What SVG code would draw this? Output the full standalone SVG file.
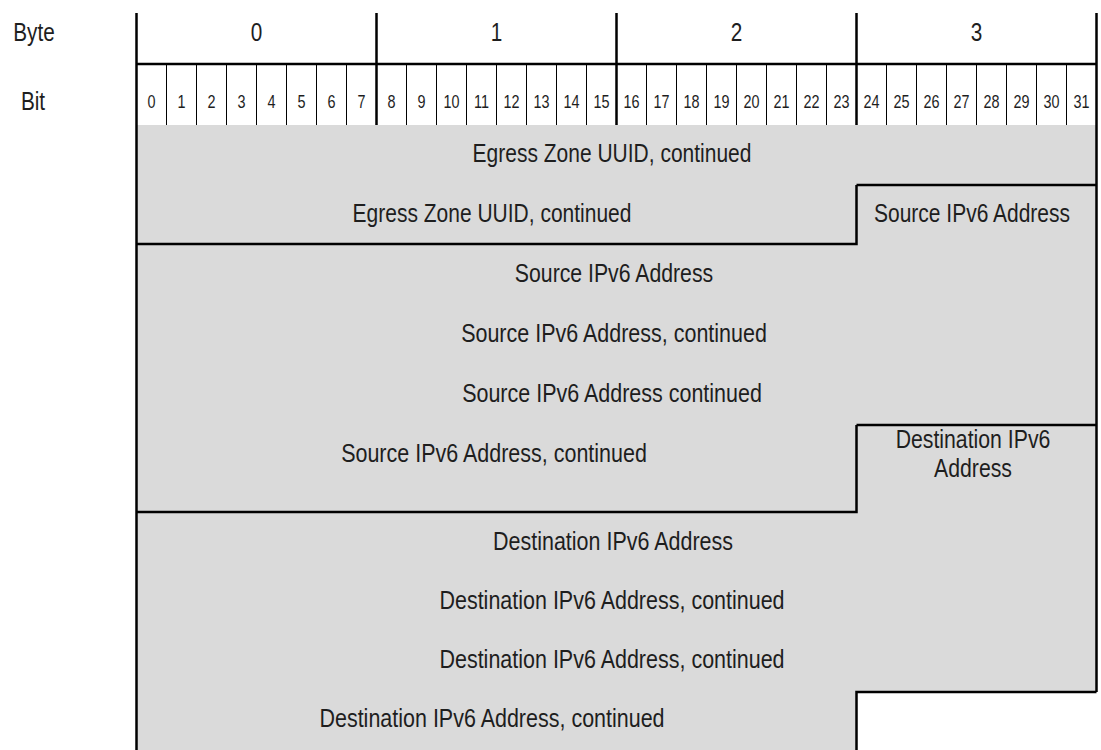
<svg xmlns="http://www.w3.org/2000/svg" width="1101" height="750" viewBox="0 0 1101 750">
<style>
text{font-family:"Liberation Sans",Arial,sans-serif;fill:#1e1e1e;text-anchor:middle}
.t{font-size:25px}
.h{font-size:25px}
.b{font-size:18px}
.thick{stroke:#000;stroke-width:2.5;fill:none}
.thin{stroke:#000;stroke-width:1;fill:none}
</style>
<rect width="1101" height="750" fill="#fff"/>
<path d="M136.5,125H1096.5V692H856.5V750H136.5Z" fill="#dadada"/>
<g id="header">
<text class="h" transform="translate(34 41) scale(0.83 1)">Byte</text>
<text class="h" transform="translate(33 110) scale(0.83 1)">Bit</text>
<text class="h" transform="translate(256.5 41) scale(0.83 1)">0</text>
<text class="h" transform="translate(496.5 41) scale(0.83 1)">1</text>
<text class="h" transform="translate(736.5 41) scale(0.83 1)">2</text>
<text class="h" transform="translate(976.5 41) scale(0.83 1)">3</text>
<g id="bits">
<text class="b" transform="translate(151.5 108) scale(0.8 1)">0</text><text class="b" transform="translate(181.5 108) scale(0.8 1)">1</text><text class="b" transform="translate(211.5 108) scale(0.8 1)">2</text><text class="b" transform="translate(241.5 108) scale(0.8 1)">3</text>
<text class="b" transform="translate(271.5 108) scale(0.8 1)">4</text><text class="b" transform="translate(301.5 108) scale(0.8 1)">5</text><text class="b" transform="translate(331.5 108) scale(0.8 1)">6</text><text class="b" transform="translate(361.5 108) scale(0.8 1)">7</text>
<text class="b" transform="translate(391.5 108) scale(0.8 1)">8</text><text class="b" transform="translate(421.5 108) scale(0.8 1)">9</text><text class="b" transform="translate(451.5 108) scale(0.8 1)">10</text><text class="b" transform="translate(481.5 108) scale(0.8 1)">11</text>
<text class="b" transform="translate(511.5 108) scale(0.8 1)">12</text><text class="b" transform="translate(541.5 108) scale(0.8 1)">13</text><text class="b" transform="translate(571.5 108) scale(0.8 1)">14</text><text class="b" transform="translate(601.5 108) scale(0.8 1)">15</text>
<text class="b" transform="translate(631.5 108) scale(0.8 1)">16</text><text class="b" transform="translate(661.5 108) scale(0.8 1)">17</text><text class="b" transform="translate(691.5 108) scale(0.8 1)">18</text><text class="b" transform="translate(721.5 108) scale(0.8 1)">19</text>
<text class="b" transform="translate(751.5 108) scale(0.8 1)">20</text><text class="b" transform="translate(781.5 108) scale(0.8 1)">21</text><text class="b" transform="translate(811.5 108) scale(0.8 1)">22</text><text class="b" transform="translate(841.5 108) scale(0.8 1)">23</text>
<text class="b" transform="translate(871.5 108) scale(0.8 1)">24</text><text class="b" transform="translate(901.5 108) scale(0.8 1)">25</text><text class="b" transform="translate(931.5 108) scale(0.8 1)">26</text><text class="b" transform="translate(961.5 108) scale(0.8 1)">27</text>
<text class="b" transform="translate(991.5 108) scale(0.8 1)">28</text><text class="b" transform="translate(1021.5 108) scale(0.8 1)">29</text><text class="b" transform="translate(1051.5 108) scale(0.8 1)">30</text><text class="b" transform="translate(1081.5 108) scale(0.8 1)">31</text>
</g>
</g>
<g id="f1"><text class="t" transform="translate(612 162) scale(0.84 1)">Egress Zone UUID, continued</text></g>
<g id="f2"><text class="t" transform="translate(492 222) scale(0.84 1)">Egress Zone UUID, continued</text></g>
<g id="f3"><text class="t" transform="translate(972 222) scale(0.84 1)">Source IPv6 Address</text></g>
<g id="f4"><text class="t" transform="translate(614 282) scale(0.85 1)">Source IPv6 Address</text></g>
<g id="f5"><text class="t" transform="translate(614 342) scale(0.86 1)">Source IPv6 Address, continued</text></g>
<g id="f6"><text class="t" transform="translate(612 402) scale(0.86 1)">Source IPv6 Address continued</text></g>
<g id="f7"><text class="t" transform="translate(494 462) scale(0.86 1)">Source IPv6 Address, continued</text></g>
<g id="f8"><text class="t" transform="translate(973 448) scale(0.85 1)">Destination IPv6</text><text class="t" transform="translate(973 477) scale(0.85 1)">Address</text></g>
<g id="f9"><text class="t" transform="translate(613 550) scale(0.86 1)">Destination IPv6 Address</text></g>
<g id="f10"><text class="t" transform="translate(612 609) scale(0.86 1)">Destination IPv6 Address, continued</text></g>
<g id="f11"><text class="t" transform="translate(612 668) scale(0.86 1)">Destination IPv6 Address, continued</text></g>
<g id="f12"><text class="t" transform="translate(492 727) scale(0.86 1)">Destination IPv6 Address, continued</text></g>
<g id="lines">
<path class="thin" d="M166.5,64V125M196.5,64V125M226.5,64V125M256.5,64V125M286.5,64V125M316.5,64V125M346.5,64V125M406.5,64V125M436.5,64V125M466.5,64V125M496.5,64V125M526.5,64V125M556.5,64V125M586.5,64V125M646.5,64V125M676.5,64V125M706.5,64V125M736.5,64V125M766.5,64V125M796.5,64V125M826.5,64V125M886.5,64V125M916.5,64V125M946.5,64V125M976.5,64V125M1006.5,64V125M1036.5,64V125M1066.5,64V125"/>
<path class="thick" d="M136.5,13V750M1096.5,13V692M376.5,13V125M616.5,13V125M856.5,13V125M136.5,64H1096.5"/>
<path class="thick" d="M856.5,185H1096.5M136.5,244H856.5V185"/>
<path class="thick" d="M856.5,425H1096.5M136.5,512H856.5V425"/>
<path class="thick" d="M856.5,750V692H1096.5"/>
</g>
</svg>
